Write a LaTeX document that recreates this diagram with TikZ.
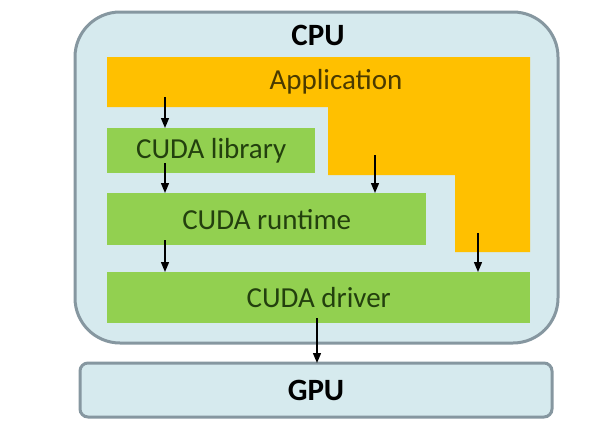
\documentclass[tikz,border=0pt]{standalone}
\usepackage{fontspec}
\setmainfont{Carlito}
\usetikzlibrary{arrows.meta}
\definecolor{cpufill}{HTML}{D6EAEE}
\definecolor{cpuborder}{HTML}{8697A0}
\definecolor{appor}{HTML}{FFC000}
\definecolor{cudagreen}{HTML}{92D050}
\definecolor{cudatext}{HTML}{23400E}
\definecolor{apptext}{HTML}{4A3A00}
\begin{document}
\begin{tikzpicture}[x=1pt,y=-1pt,
  hostbox/.style={draw=cpuborder, line width=3pt, fill=cpufill},
  layer/.style={fill=cudagreen, draw=none, inner sep=0pt, anchor=north west, text=cudatext, font=\fontsize{29}{34}\selectfont},
  title/.style={font=\fontsize{31}{36}\selectfont\bfseries, text=black},
  arr/.style={draw=black, line width=1.4pt, -{Triangle[length=10pt,width=8pt]}}
]
\useasboundingbox (0,0) rectangle (600,434);
% CPU host box
\draw[hostbox, rounded corners=45pt] (75,12) rectangle (558,343);
\node[title] (cpu) at (318,35) {CPU};
% Application (orange staircase)
\fill[appor] (107,57) -- (530,57) -- (530,252) -- (455,252) -- (455,175) -- (328,175) -- (328,107) -- (107,107) -- cycle;
\node[font=\fontsize{29}{34}\selectfont, text=apptext] (app) at (336,82) {Application};
% CUDA layers
\node[layer, minimum width=208pt, minimum height=45pt] (lib) at (107,128) {CUDA library};
\node[layer, minimum width=319pt, minimum height=52pt] (rt) at (107,193) {CUDA runtime};
\node[layer, minimum width=423pt, minimum height=51pt] (drv) at (107,272) {CUDA driver};
% GPU
\draw[hostbox, rounded corners=8pt] (80,363) rectangle (552,417);
\node[title] (gpu) at (316,390) {GPU};
% arrow start points
\coordinate (s1) at (165,97);
\coordinate (s2) at (165,163);
\coordinate (s3) at (375,155);
\coordinate (s4) at (165,240);
\coordinate (s5) at (478,233);
\coordinate (s6) at (317,318);
\coordinate (gputop) at (317,363);
\draw[arr] (s1) -- (s1 |- lib.north);
\draw[arr] (s2) -- (s2 |- rt.north);
\draw[arr] (s3) -- (s3 |- rt.north);
\draw[arr] (s4) -- (s4 |- drv.north);
\draw[arr] (s5) -- (s5 |- drv.north);
\draw[arr] (s6) -- (gputop);
\end{tikzpicture}
\end{document}
